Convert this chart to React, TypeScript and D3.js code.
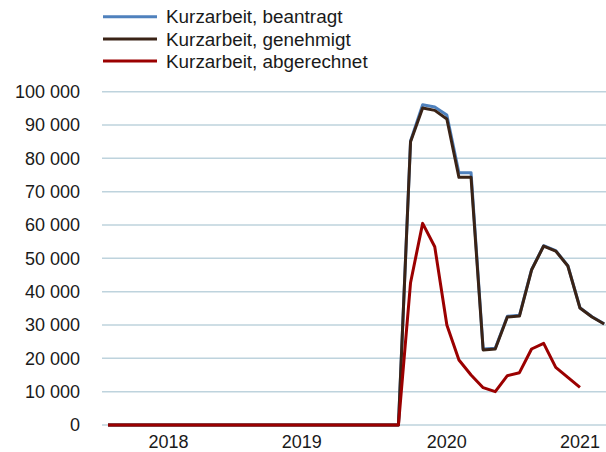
import React from "react";
import * as d3 from "d3";

const months: string[] = [
  "2018-02","2018-03","2018-04","2018-05","2018-06","2018-07","2018-08","2018-09","2018-10","2018-11","2018-12",
  "2019-01","2019-02","2019-03","2019-04","2019-05","2019-06","2019-07","2019-08","2019-09","2019-10","2019-11","2019-12",
  "2020-01","2020-02","2020-03","2020-04","2020-05","2020-06","2020-07","2020-08","2020-09","2020-10","2020-11","2020-12",
  "2021-01","2021-02","2021-03","2021-04","2021-05","2021-06","2021-07",
];

const zeros25 = [0,0,0,0,0,0,0,0,0,0,0,0,0,0,0,0,0,0,0,0,0,0,0,0,0];

const beantragt: number[] = [
  ...zeros25,
  85200, 96100, 95400, 93000, 75700, 75700, 22800, 23000, 32600, 32900, 46600, 53800, 52300, 47800, 35200, 32500, 30400,
];
const genehmigt: number[] = [
  ...zeros25,
  85000, 95100, 94400, 91800, 74300, 74300, 22500, 22800, 32400, 32700, 46500, 53700, 52200, 47700, 35100, 32400, 30300,
];
const abgerechnet: number[] = [
  ...zeros25,
  42700, 60500, 53500, 30000, 19500, 15000, 11200, 10000, 14800, 15700, 22800, 24500, 17300, 14300, 11300,
];

const yTicks: number[] = [0, 10000, 20000, 30000, 40000, 50000, 60000, 70000, 80000, 90000, 100000];
const yearLabels: string[] = ["2018", "2019", "2020", "2021"];
const yearLabelMonths: string[] = ["2018-07", "2019-06", "2020-06", "2021-05"];

const seriesNames: string[] = ["Kurzarbeit, beantragt", "Kurzarbeit, genehmigt", "Kurzarbeit, abgerechnet"];
const seriesColors: string[] = ["#4F81BD", "#3A2316", "#9B0000"];

const W = 606;
const H = 452;
const FONT = "'Liberation Sans', Arial, sans-serif";

export default function App() {
  const left = 102;
  const step = 12.1;
  const x = d3
    .scaleLinear()
    .domain([-0.5, months.length - 0.5])
    .range([left, left + step * months.length]);
  const y = d3.scaleLinear().domain([0, 100000]).range([425, 91.7]);

  const fmt = (v: number) => d3.format(",")(v).replace(/,/g, " ");

  const line = d3
    .line<number>()
    .x((_, i) => x(i))
    .y((d) => y(d));

  const series = [beantragt, genehmigt, abgerechnet];

  return (
    <svg
      width={W}
      height={H}
      style={{ position: "fixed", left: 0, top: 0, background: "#fff" }}
      fontFamily={FONT}
    >
      {yTicks.map((t) => (
        <g key={t}>
          <line x1={left} x2={W} y1={y(t)} y2={y(t)} stroke="#BED3DD" strokeWidth={1.5} />
          <text x={80} y={y(t)} dy="0.35em" textAnchor="end" fontSize={18} fill="#1a1a1a">
            {fmt(t)}
          </text>
        </g>
      ))}
      {yearLabels.map((lab, k) => (
        <text
          key={lab}
          x={x(months.indexOf(yearLabelMonths[k]))}
          y={441.5}
          dy="0.35em"
          textAnchor="middle"
          fontSize={18}
          fill="#1a1a1a"
        >
          {lab}
        </text>
      ))}
      {series.map((s, k) => (
        <path
          key={k}
          d={line(s) || ""}
          fill="none"
          stroke={seriesColors[k]}
          strokeWidth={3}
          strokeLinejoin="round"
        />
      ))}
      {seriesNames.map((n, k) => (
        <g key={n}>
          <line x1={103} x2={157} y1={16.7 + k * 22.2} y2={16.7 + k * 22.2} stroke={seriesColors[k]} strokeWidth={3} />
          <text x={166} y={16.7 + k * 22.2} dy="0.35em" fontSize={18.9} fill="#1a1a1a">
            {n}
          </text>
        </g>
      ))}
    </svg>
  );
}
